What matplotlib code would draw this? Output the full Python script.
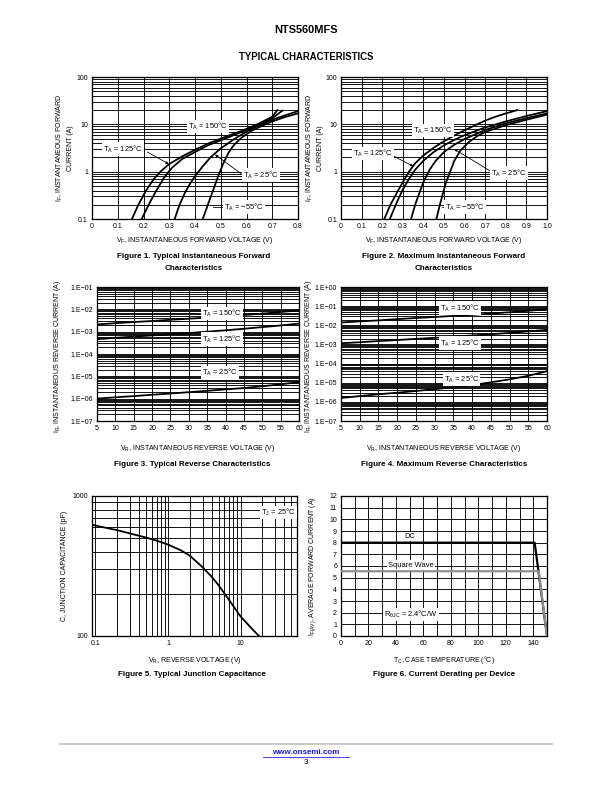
import numpy as np
import matplotlib
matplotlib.use('Agg')
import matplotlib.pyplot as plt
from matplotlib.ticker import LogLocator, FixedLocator, NullFormatter, MultipleLocator, FixedFormatter

plt.rcParams['font.family'] = ['Liberation Sans', 'DejaVu Sans']
plt.rcParams['mathtext.fontset'] = 'custom'
plt.rcParams['mathtext.rm'] = 'Liberation Sans'
plt.rcParams['mathtext.it'] = 'Liberation Sans:italic'
plt.rcParams['mathtext.bf'] = 'Liberation Sans:bold'

W, H = 612, 792
TICK, AXL, LAB, CAP = 7, 7, 7.5, 8

# ---------------- data ----------------
# Fig 1: typical forward characteristics
vf1_150 = [0.155, 0.18, 0.21, 0.24, 0.27, 0.30, 0.35, 0.40, 0.45, 0.50, 0.55, 0.60, 0.65, 0.70, 0.72]
if1_150 = [0.1, 0.2, 0.4, 0.7, 1.05, 1.45, 2.1, 2.9, 3.9, 5.0, 6.3, 8.0, 10.5, 14.5, 20]
vf1_125 = [0.193, 0.22, 0.25, 0.28, 0.31, 0.35, 0.40, 0.45, 0.50, 0.55, 0.60, 0.65, 0.70, 0.74]
if1_125 = [0.1, 0.2, 0.4, 0.75, 1.2, 1.85, 2.6, 3.6, 4.6, 5.9, 7.6, 10.0, 13.5, 19.5]
vf1_25 = [0.321, 0.34, 0.36, 0.38, 0.40, 0.43, 0.46, 0.50, 0.55, 0.60, 0.65, 0.70, 0.75, 0.80]
if1_25 = [0.1, 0.2, 0.35, 0.55, 0.8, 1.3, 2.0, 3.1, 4.8, 7.0, 9.6, 12.5, 15.5, 19]
vf1_m55 = [0.43, 0.45, 0.47, 0.49, 0.51, 0.53, 0.55, 0.58, 0.62, 0.66, 0.70, 0.75, 0.80]
if1_m55 = [0.1, 0.2, 0.4, 0.8, 1.5, 2.5, 3.6, 5.2, 7.3, 9.3, 11.5, 14.3, 17]

# Fig 2: maximum forward characteristics
vf2_150 = [0.21, 0.24, 0.27, 0.30, 0.33, 0.36, 0.40, 0.45, 0.50, 0.55, 0.60, 0.65, 0.70, 0.75, 0.80, 0.855]
if2_150 = [0.1, 0.2, 0.35, 0.6, 1.0, 1.5, 2.2, 3.2, 4.4, 5.8, 7.5, 9.5, 12, 14.5, 17, 20]
vf2_125 = [0.237, 0.27, 0.30, 0.33, 0.36, 0.40, 0.45, 0.50, 0.55, 0.60, 0.70, 0.80, 0.90, 1.0]
if2_125 = [0.1, 0.22, 0.42, 0.7, 1.1, 1.7, 2.6, 3.6, 4.7, 5.9, 8.6, 11.5, 15, 19]
vf2_25 = [0.34, 0.36, 0.38, 0.40, 0.43, 0.46, 0.50, 0.55, 0.60, 0.70, 0.80, 0.90, 1.0]
if2_25 = [0.1, 0.2, 0.35, 0.6, 1.1, 1.7, 2.6, 3.7, 4.9, 7.6, 10.5, 13.5, 17]
vf2_m55 = [0.463, 0.48, 0.495, 0.51, 0.53, 0.55, 0.58, 0.62, 0.66, 0.70, 0.80, 0.90, 1.0]
if2_m55 = [0.1, 0.2, 0.35, 0.6, 1.0, 1.7, 2.8, 4.2, 5.6, 6.9, 9.6, 12.5, 16]

# Fig 3 / Fig 4: reverse characteristics
vr = [5, 10, 15, 20, 25, 30, 35, 40, 45, 50, 55, 60]
ir3_150 = [2.1e-3, 2.4e-3, 2.7e-3, 3.0e-3, 3.4e-3, 3.8e-3, 4.3e-3, 4.9e-3, 5.6e-3, 6.4e-3, 7.6e-3, 9.0e-3]
ir3_125 = [4.6e-4, 5.3e-4, 6.0e-4, 6.8e-4, 7.7e-4, 8.7e-4, 1.0e-3, 1.15e-3, 1.35e-3, 1.6e-3, 1.9e-3, 2.3e-3]
ir3_25 = [1.0e-6, 1.15e-6, 1.3e-6, 1.5e-6, 1.7e-6, 1.95e-6, 2.25e-6, 2.6e-6, 3.0e-6, 3.6e-6, 4.4e-6, 5.5e-6]
ir4_150 = [0.014, 0.016, 0.018, 0.021, 0.024, 0.027, 0.031, 0.035, 0.041, 0.048, 0.057, 0.069]
ir4_125 = [1.15e-3, 1.3e-3, 1.5e-3, 1.7e-3, 1.95e-3, 2.2e-3, 2.55e-3, 2.95e-3, 3.4e-3, 4.0e-3, 4.8e-3, 5.8e-3]
ir4_25 = [1.6e-6, 2.0e-6, 2.5e-6, 3.0e-6, 3.7e-6, 4.6e-6, 5.8e-6, 7.5e-6, 1.05e-5, 1.5e-5, 2.3e-5, 4.0e-5]

# Fig 5: junction capacitance
vr5 = [0.09, 0.1, 0.2, 0.3, 0.5, 0.7, 1, 1.5, 2, 3, 4, 5, 7, 10, 15, 18]
cj5 = [625, 615, 570, 540, 505, 480, 450, 410, 375, 310, 265, 230, 180, 138, 110, 100]

# Fig 6: current derating
tc_dc = [0, 141, 150]
if_dc = [8, 8, 0]
tc_sq = [0, 144, 150]
if_sq = [5.55, 5.55, 0]

ir_ticks = ['1.E\u221207', '1.E\u221206', '1.E\u221205', '1.E\u221204', '1.E\u221203', '1.E\u221202', '1.E\u221201', '1.E+00']


def box(l, t, r, b):
    return [l / W, 1 - b / H, (r - l) / W, (b - t) / H]


def ftext(x, y, s, **kw):
    kw.setdefault('ha', 'center')
    kw.setdefault('va', 'center')
    kw.setdefault('fontsize', AXL)
    fig.text(x / W, 1 - y / H, s, **kw)


def style(ax):
    for sp in ax.spines.values():
        sp.set_linewidth(1.3)
    ax.tick_params(which='both', length=0, labelsize=TICK, pad=4)
    ax.grid(True, which='both', color='black', lw=0.9)
    ax.set_axisbelow(True)


def label(ax, x, y, s, **kw):
    ax.text(x, y, s, fontsize=LAB, ha='center', va='center',
            bbox=dict(fc='white', ec='none', pad=1.2), zorder=5, **kw)


def pointer(ax, xy, xytext):
    ax.annotate('', xy=xy, xytext=xytext,
                arrowprops=dict(arrowstyle='-|>', color='black', lw=0.8,
                                mutation_scale=5, shrinkA=0, shrinkB=0), zorder=4)


DEG = '\u00b0'


def TA(t):
    return r'$\mathregular{T_A}$ = ' + t + DEG + 'C'


fig = plt.figure(figsize=(W / 72, H / 72), dpi=72, facecolor='white')

# header
ftext(306, 30, 'NTS560MFS', fontsize=11, fontweight='bold')
ftext(306, 57, 'TYPICAL CHARACTERISTICS', fontsize=9.5, fontweight='bold')

# ---------------- Figure 1 ----------------
ax = fig.add_axes(box(92, 77, 298, 219))
ax.set_yscale('log')
ax.set_xlim(0, 0.8)
ax.set_ylim(0.1, 100)
ax.set_xticks(np.arange(0, 0.81, 0.1))
ax.set_xticklabels(['0', '0.1', '0.2', '0.3', '0.4', '0.5', '0.6', '0.7', '0.8'])
ax.yaxis.set_major_locator(FixedLocator([0.1, 1, 10, 100]))
ax.yaxis.set_major_formatter(FixedFormatter(['0.1', '1', '10', '100']))
ax.yaxis.set_minor_locator(LogLocator(subs=np.arange(2, 10)))
ax.yaxis.set_minor_formatter(NullFormatter())
style(ax)
for v, i in [(vf1_150, if1_150), (vf1_125, if1_125), (vf1_25, if1_25), (vf1_m55, if1_m55)]:
    ax.plot(v, i, color='black', lw=1.8, zorder=3)
label(ax, 0.45, 9.0, TA('150'))
label(ax, 0.12, 3.0, TA('125'))
pointer(ax, (0.298, 1.45), (0.215, 2.6))
label(ax, 0.655, 0.85, TA('25'))
pointer(ax, (0.478, 2.3), (0.58, 0.9))
label(ax, 0.59, 0.18, TA('\u221255'))
ax.plot([0.47, 0.53], [0.18, 0.18], color='black', lw=0.8, zorder=4)
ftext(60, 148, r'$\mathregular{I_F}$, INSTANTANEOUS FORWARD', rotation=90)
ftext(71, 148, 'CURRENT (A)', rotation=90)
ftext(195, 241, r'$\mathregular{V_F}$, INSTANTANEOUS FORWARD VOLTAGE (V)')
ftext(194, 257, 'Figure 1. Typical Instantaneous Forward', fontsize=CAP, fontweight='bold')
ftext(194, 268, 'Characteristics', fontsize=CAP, fontweight='bold')

# ---------------- Figure 2 ----------------
ax = fig.add_axes(box(341, 77, 547, 219))
ax.set_yscale('log')
ax.set_xlim(0, 1.0)
ax.set_ylim(0.1, 100)
ax.set_xticks(np.arange(0, 1.01, 0.1))
ax.set_xticklabels(['0', '0.1', '0.2', '0.3', '0.4', '0.5', '0.6', '0.7', '0.8', '0.9', '1.0'])
ax.yaxis.set_major_locator(FixedLocator([0.1, 1, 10, 100]))
ax.yaxis.set_major_formatter(FixedFormatter(['0.1', '1', '10', '100']))
ax.yaxis.set_minor_locator(LogLocator(subs=np.arange(2, 10)))
ax.yaxis.set_minor_formatter(NullFormatter())
style(ax)
for v, i in [(vf2_150, if2_150), (vf2_125, if2_125), (vf2_25, if2_25), (vf2_m55, if2_m55)]:
    ax.plot(v, i, color='black', lw=1.8, zorder=3)
label(ax, 0.445, 7.4, TA('150'))
label(ax, 0.155, 2.4, TA('125'))
pointer(ax, (0.35, 1.3), (0.25, 2.2))
label(ax, 0.815, 0.93, TA('25'))
pointer(ax, (0.55, 3.0), (0.73, 1.0))
label(ax, 0.6, 0.18, TA('\u221255'))
ax.plot([0.49, 0.53], [0.18, 0.18], color='black', lw=0.8, zorder=4)
ftext(310, 148, r'$\mathregular{I_F}$, INSTANTANEOUS FORWARD', rotation=90)
ftext(321, 148, 'CURRENT (A)', rotation=90)
ftext(444, 241, r'$\mathregular{V_F}$, INSTANTANEOUS FORWARD VOLTAGE (V)')
ftext(444, 257, 'Figure 2. Maximum Instantaneous Forward', fontsize=CAP, fontweight='bold')
ftext(444, 268, 'Characteristics', fontsize=CAP, fontweight='bold')


def reverse_axes(rect, ylo, yhi):
    ax = fig.add_axes(rect)
    ax.set_yscale('log')
    ax.set_xlim(5, 60)
    ax.set_ylim(10.0 ** ylo, 10.0 ** yhi)
    ax.set_xticks(vr)
    ax.yaxis.set_major_locator(FixedLocator([10.0 ** k for k in range(ylo, yhi + 1)]))
    ax.yaxis.set_major_formatter(FixedFormatter(ir_ticks[:yhi - ylo + 1]))
    ax.yaxis.set_minor_locator(LogLocator(subs=np.arange(2, 10), numticks=20))
    ax.yaxis.set_minor_formatter(NullFormatter())
    style(ax)
    return ax


# ---------------- Figure 3 ----------------
ax = reverse_axes(box(97, 287, 299, 421), -7, -1)
for i in [ir3_150, ir3_125, ir3_25]:
    ax.plot(vr, i, color='black', lw=1.8, zorder=3)
label(ax, 39, 6.6e-3, TA('150'))
label(ax, 39, 4.6e-4, TA('125'))
label(ax, 38.5, 1.45e-5, TA('25'))
ftext(58, 356, r'$\mathregular{I_R}$, INSTANTANEOUS REVERSE CURRENT (A)', rotation=90)
ftext(198, 449, r'$\mathregular{V_R}$, INSTANTANEOUS REVERSE VOLTAGE (V)')
ftext(192, 465, 'Figure 3. Typical Reverse Characteristics', fontsize=CAP, fontweight='bold')

# ---------------- Figure 4 ----------------
ax = reverse_axes(box(341, 287, 547, 421), -7, 0)
for i in [ir4_150, ir4_125, ir4_25]:
    ax.plot(vr, i, color='black', lw=1.8, zorder=3)
label(ax, 36.8, 0.078, TA('150'))
label(ax, 36.8, 1.15e-3, TA('125'))
label(ax, 37.2, 1.55e-5, TA('25'))
ftext(308, 356, r'$\mathregular{I_R}$, INSTANTANEOUS REVERSE CURRENT (A)', rotation=90)
ftext(444, 449, r'$\mathregular{V_R}$, INSTANTANEOUS REVERSE VOLTAGE (V)')
ftext(444, 465, 'Figure 4. Maximum Reverse Characteristics', fontsize=CAP, fontweight='bold')

# ---------------- Figure 5 ----------------
ax = fig.add_axes(box(92, 496, 297, 636))
ax.set_xscale('log')
ax.set_yscale('log')
ax.set_xlim(0.09, 60)
ax.set_ylim(100, 1000)
ax.xaxis.set_major_locator(FixedLocator([0.1, 1, 10]))
ax.xaxis.set_major_formatter(FixedFormatter(['0.1', '1', '10']))
ax.xaxis.set_minor_locator(LogLocator(subs=np.arange(2, 10)))
ax.xaxis.set_minor_formatter(NullFormatter())
ax.yaxis.set_major_locator(FixedLocator([100, 1000]))
ax.yaxis.set_major_formatter(FixedFormatter(['100', '1000']))
ax.yaxis.set_minor_locator(LogLocator(subs=np.arange(2, 10)))
ax.yaxis.set_minor_formatter(NullFormatter())
style(ax)
ax.plot(vr5, cj5, color='black', lw=1.8, zorder=3)
label(ax, 33, 760, r'$\mathregular{T_J}$ = 25' + DEG + 'C')
ftext(65, 566, 'C, JUNCTION CAPACITANCE (pF)', rotation=90)
ftext(195, 660, r'$\mathregular{V_R}$, REVERSE VOLTAGE (V)')
ftext(192, 674, 'Figure 5. Typical Junction Capacitance', fontsize=CAP, fontweight='bold')

# ---------------- Figure 6 ----------------
ax = fig.add_axes(box(341, 496, 547, 636))
ax.set_xlim(0, 150)
ax.set_ylim(0, 12)
ax.set_xticks(np.arange(0, 141, 20))
ax.xaxis.set_minor_locator(MultipleLocator(10))
ax.set_yticks(np.arange(0, 13, 1))
style(ax)
ax.plot(tc_dc, if_dc, color='black', lw=2.2, zorder=3)
ax.plot(tc_sq, if_sq, color='#8c8c8c', lw=2.2, zorder=3)
label(ax, 50, 8.55, 'DC')
label(ax, 51, 6.07, 'Square Wave')
label(ax, 51, 1.84, r'$\mathregular{R_{\theta JC}}$ = 2.4' + DEG + 'C/W')
ftext(313, 566, r'$\mathregular{I_{F(AV)}}$, AVERAGE FORWARD CURRENT (A)', rotation=90)
ftext(444, 660, r'$\mathregular{T_C}$, CASE TEMPERATURE (' + DEG + 'C)')
ftext(444, 674, 'Figure 6. Current Derating per Device', fontsize=CAP, fontweight='bold')

# footer
fig.add_artist(plt.Line2D([60 / W, 552 / W], [1 - 744 / H, 1 - 744 / H], color='#b8b8b8', lw=1.5))
ftext(306, 752, 'www.onsemi.com', fontsize=8, fontweight='bold', color='#1a1aff')
fig.add_artist(plt.Line2D([263 / W, 349 / W], [1 - 756.5 / H, 1 - 756.5 / H], color='#1a1aff', lw=0.8))
ftext(306, 762, '3', fontsize=8)

fig.savefig('out.png', dpi=72, facecolor='white')
